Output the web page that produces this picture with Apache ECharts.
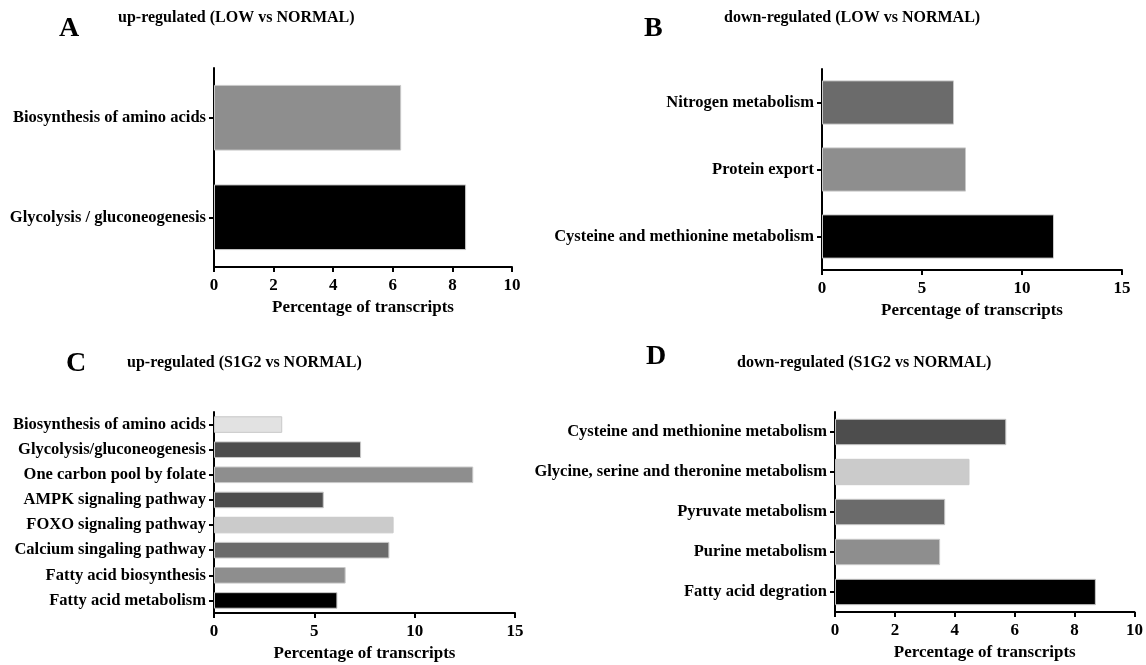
<!DOCTYPE html>
<html>
<head>
<meta charset="utf-8">
<script src="https://cdn.jsdelivr.net/npm/echarts@6/dist/echarts.min.js"></script>
<style>
  html, body { margin: 0; padding: 0; background: #fff; }
  #main { width: 1146px; height: 665px; }
</style>
</head>
<body>
<div id="main"></div>
<script>
// panel A: up-regulated (LOW vs NORMAL)
const catsA = ['Biosynthesis of amino acids', 'Glycolysis / gluconeogenesis']
const valsA = [6.28, 8.46]
const colorsA = ['#8e8e8e', '#000000']

// panel B: down-regulated (LOW vs NORMAL)
const catsB = ['Nitrogen metabolism', 'Protein export', 'Cysteine and methionine metabolism']
const valsB = [6.6, 7.2, 11.6]
const colorsB = ['#6b6b6b', '#8e8e8e', '#000000']

// panel C: up-regulated (S1G2 vs NORMAL)
const catsC = ['Biosynthesis of amino acids', 'Glycolysis/gluconeogenesis', 'One carbon pool by folate',
  'AMPK signaling pathway', 'FOXO signaling pathway', 'Calcium singaling pathway',
  'Fatty acid biosynthesis', 'Fatty acid metabolism']
const valsC = [3.4, 7.33, 12.92, 5.47, 8.95, 8.74, 6.56, 6.15]
const colorsC = ['#e2e2e2', '#4d4d4d', '#8e8e8e', '#4d4d4d', '#cbcbcb', '#6b6b6b', '#8e8e8e', '#000000']

// panel D: down-regulated (S1G2 vs NORMAL)
const catsD = ['Cysteine and methionine metabolism', 'Glycine, serine and theronine metabolism',
  'Pyruvate metabolism', 'Purine metabolism', 'Fatty acid degration']
const valsD = [5.72, 4.49, 3.68, 3.51, 8.71]
const colorsD = ['#4d4d4d', '#cbcbcb', '#6b6b6b', '#8e8e8e', '#000000']

const ticksA = { max: 10, interval: 2 }
const ticksB = { max: 15, interval: 5 }
const ticksC = { max: 15, interval: 5 }
const ticksD = { max: 10, interval: 2 }

const font = 'Liberation Serif, Times New Roman, serif'

const grids = [
  { left: 214, top: 68, width: 298, height: 199 },
  { left: 822, top: 69, width: 300, height: 201 },
  { left: 214, top: 412, width: 301, height: 201 },
  { left: 835, top: 412, width: 300, height: 200 },
]

const panels = [
  { cats: catsA, vals: valsA, colors: colorsA, ticks: ticksA },
  { cats: catsB, vals: valsB, colors: colorsB, ticks: ticksB },
  { cats: catsC, vals: valsC, colors: colorsC, ticks: ticksC },
  { cats: catsD, vals: valsD, colors: colorsD, ticks: ticksD },
]

const titleStyle = { fontFamily: font, fontWeight: 'bold', fontSize: 16, color: '#000' }
const letterStyle = { fontFamily: font, fontWeight: 'bold', fontSize: 28, color: '#000' }

const initChart = () => {
  const chartDom = document.getElementById('main')
  const myChart = echarts.init(chartDom)

  const option = {
    animation: false,
    backgroundColor: '#fff',
    title: [
      { text: 'A', left: 59, top: 15, padding: 0, textStyle: letterStyle },
      { text: 'up-regulated (LOW vs NORMAL)', left: 118, top: 10, padding: 0, textStyle: titleStyle },
      { text: 'B', left: 644, top: 15, padding: 0, textStyle: letterStyle },
      { text: 'down-regulated (LOW vs NORMAL)', left: 724, top: 10, padding: 0, textStyle: titleStyle },
      { text: 'C', left: 66, top: 350, padding: 0, textStyle: letterStyle },
      { text: 'up-regulated (S1G2 vs NORMAL)', left: 127, top: 355, padding: 0, textStyle: titleStyle },
      { text: 'D', left: 646, top: 343, padding: 0, textStyle: letterStyle },
      { text: 'down-regulated (S1G2 vs NORMAL)', left: 737, top: 355, padding: 0, textStyle: titleStyle },
    ],
    grid: grids,
    xAxis: panels.map((p, i) => ({
      type: 'value',
      gridIndex: i,
      min: 0,
      max: p.ticks.max,
      interval: p.ticks.interval,
      name: 'Percentage of transcripts',
      nameLocation: 'middle',
      nameGap: 32,
      nameTextStyle: { fontFamily: font, fontWeight: 'bold', fontSize: 17, color: '#000' },
      axisLine: { show: true, lineStyle: { color: '#000', width: 2 } },
      axisTick: { show: true, length: 5, lineStyle: { color: '#000', width: 2 } },
      axisLabel: { margin: 10, fontFamily: font, fontWeight: 'bold', fontSize: 17, color: '#000' },
      splitLine: { show: false },
    })),
    yAxis: panels.map((p, i) => ({
      type: 'category',
      gridIndex: i,
      inverse: true,
      data: p.cats,
      axisLine: { show: true, lineStyle: { color: '#000', width: 2 } },
      axisTick: { show: true, alignWithLabel: true, length: 5, lineStyle: { color: '#000', width: 2 } },
      axisLabel: { margin: 8, fontFamily: font, fontWeight: 'bold', fontSize: 16.5, color: '#000' },
    })),
    series: panels.map((p, i) => ({
      type: 'bar',
      xAxisIndex: i,
      yAxisIndex: i,
      barCategoryGap: '34%',
      data: p.vals.map((v, j) => ({
        value: v,
        itemStyle: { color: p.colors[j], borderColor: '#c8c8c8', borderWidth: 1 },
      })),
    })),
  }

  myChart.setOption(option)
}

initChart()
</script>
</body>
</html>
